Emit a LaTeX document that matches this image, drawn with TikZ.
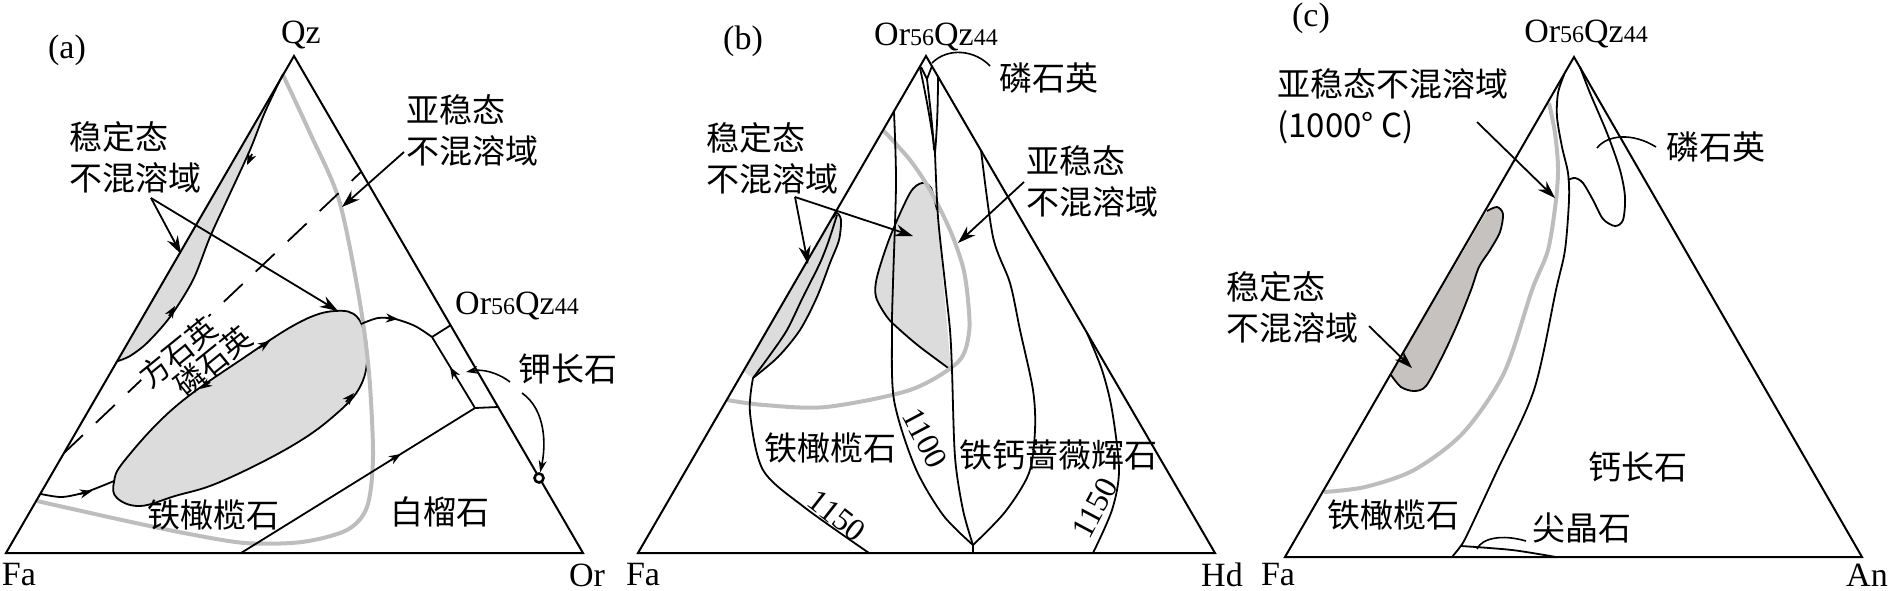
\documentclass[tikz,border=0pt]{standalone}
\usepackage{fontspec}
\setmainfont{Liberation Serif}
\newfontfamily\cjk{Noto Sans CJK SC}
\usetikzlibrary{arrows.meta}
\definecolor{lightfill}{HTML}{DCDCDC}
\definecolor{curvegray}{HTML}{BDBDBD}
\definecolor{darkfill}{HTML}{C5C2C0}
\newcommand{\orqz}{Or{\fontsize{12}{12}\selectfont 56}Qz{\fontsize{12}{12}\selectfont 44}}
\begin{document}
\begin{tikzpicture}[x=0.5pt,y=-0.5pt,
  edge/.style={line width=1pt, line join=miter},
  bd/.style={line width=0.9pt},
  gcurve/.style={line width=2pt, color=curvegray},
  pointer/.style={line width=0.9pt, -{Stealth[length=9pt,width=6pt]}},
  leader/.style={line width=0.8pt},
  leaderarrow/.style={line width=0.8pt, -{Stealth[length=6pt,width=4pt]}},
  tipa/.style={line width=0.9pt, -{Stealth[length=6pt,width=4.5pt]}},
  lab/.style={font=\fontsize{17}{20}\selectfont, inner sep=0pt},
  num/.style={font=\fontsize{16}{18}\selectfont, inner sep=0pt},
  cj/.style={font=\cjk\fontsize{16.5}{20.5}\selectfont, inner sep=0pt, align=left},
  cjs/.style={font=\cjk\fontsize{15}{17}\selectfont, inner sep=0.5pt}]
\useasboundingbox (0,0) rectangle (1892,590);

%%%%%%%%%%%%%%%%%%%% Panel (a)
\coordinate (aFa) at (6,553);
\coordinate (aOr) at (583,553);
\coordinate (aQz) at (294,56);
% stable sliver
\fill[lightfill] plot[smooth] coordinates {(283,74) (265,112) (250,150) (227,200) (210,237) (193,280) (170,317) (147,343) (130,356) (118,361)} -- cycle;
% metastable ellipse
\draw[bd, fill=lightfill] plot[smooth cycle, tension=0.65] coordinates {(140,506) (117,498) (114,482) (125,460) (175,407) (245,357) (300,322) (335,311) (358,318) (367,350) (361,385) (335,415) (290,447) (220,482) (175,496)};
% metastable boundary (gray)
\draw[gcurve] plot[smooth] coordinates {(283,75) (310,133) (339,200) (359,297) (369,373) (373,457) (367,507) (347,530) (302,542) (245,543) (184,533) (122,520) (37,501)};
% cristobalite / tridymite boundary
\draw[bd, dash pattern=on 13pt off 9pt] (64,453) -- (361,172);
% triangle
\draw[edge] (aFa) -- (aOr) -- (aQz) -- cycle;
% sliver boundary
\draw[bd] plot[smooth] coordinates {(283,74) (265,112) (250,150) (227,200) (210,237) (193,280) (170,317) (147,343) (130,356) (118,361)};
\draw[tipa] (252,154) -- (247,165);
\draw[tipa] (169,316) -- (175,306);
% ellipse arrows
\draw[tipa] (259,348) -- (270,341);
\draw[tipa] (210,382) -- (200,389);
\draw[tipa] (346,402) -- (354,393);
% boundary curves
\draw[bd] plot[smooth] coordinates {(41,494) (62,497) (86,492) (114,481)};
\draw[tipa] (80,494) -- (92,491);
\coordinate (aJ1) at (432,337);
\coordinate (aJ2) at (475,408);
\draw[bd] plot[smooth] coordinates {(361,324) (378,318) (395,319) (415,326) (432,337)};
\draw[tipa] (386,318) -- (398,319);
\draw[bd] (aJ1) -- (451,325);
\draw[bd] (aJ1) -- (aJ2) -- (498,407);
\draw[tipa] (456,377) -- (450,367);
\draw[bd] (aJ2) -- (241,553);
\draw[tipa] (391,460) -- (401,454);
% K-feldspar point
\node[draw, circle, line width=1.3pt, fill=white, minimum size=4.5pt, inner sep=0pt] (aPt) at (539,478) {};
% labels
\node[lab] (aQzL) at (301,35) {Qz};
\node[lab] (aTag) at (67,50) {(a)};
\node[lab] (aFaL) at (19,575) {Fa};
\node[lab] (aOrL) at (587,575) {Or};
\node[lab] (aOQ) at (517,306) {\orqz};
\node[cj] (aKf) at (568,369) {钾长石};
\node[cj] (aLc) at (440,512) {白榴石};
\node[cj] (aFy) at (213,515) {铁橄榄石};
\node[cj, anchor=west] (aSt) at (69,157) {稳定态\\不混溶域};
\node[cj, anchor=west] (aMe) at (406,130) {亚稳态\\不混溶域};
\node[cjs, rotate=39, fill=white] (aCr) at (178,352) {方石英};
\node[cjs, rotate=39] (aTr) at (213,361) {磷石英};
% pointers
\coordinate (aS0) at (151,198);
\coordinate (aS1) at (181,254);
\coordinate (aS2) at (338,311);
\coordinate (aM0) at (404,152);
\coordinate (aM1) at (342,207);
\draw[pointer] (aS0) -- (aS1);
\draw[pointer] (aS0) -- (aS2);
\draw[pointer] (aM0) -- (aM1);
\coordinate (aK0) at (510,382);
\coordinate (aK1) at (466,372);
\coordinate (aK2) at (522,393);
\draw[leaderarrow] (aK0) .. controls (497,372) and (482,369) .. (aK1);
\draw[leaderarrow] (aK2) .. controls (546,410) and (546,445) .. (aPt);

%%%%%%%%%%%%%%%%%%%% Panel (b)
\coordinate (bFa) at (638,553);
\coordinate (bHd) at (1215,553);
\coordinate (bTop) at (926,56);
% stable sliver
\fill[lightfill] plot[smooth] coordinates {(833,218) (837,213) (841,220) (839,240) (830,263) (817,297) (800,330) (778,357) (753,378)} -- (743,371) -- cycle;
% metastable region
\fill[lightfill] plot[smooth] coordinates {(937,210) (931,188) (922,183) (910,193) (890,237) (877,277) (876,297) (887,317) (900,330) (920,347) (951,370)} -- cycle;
\draw[bd] plot[smooth] coordinates {(937,210) (931,188) (922,183) (910,193) (890,237) (877,277) (876,297) (887,317) (900,330) (920,347) (951,370)};
% gray boundary
\draw[gcurve] plot[smooth] coordinates {(883,130) (910,160) (930,190) (950,230) (963,267) (968,300) (969,333) (958,362) (910,390) (826,407) (764,405) (727,400)};
% triangle
\draw[edge] (bFa) -- (bHd) -- (bTop) -- cycle;
% sliver lines
\draw[bd] plot[smooth] coordinates {(833,218) (837,213) (841,220) (839,240) (830,263) (817,297) (800,330) (778,357) (753,378)};
\draw[bd] plot[smooth] coordinates {(837,215) (829,240) (820,263) (803,297) (787,330) (770,355) (753,378)};
% cotectic curves
\draw[bd] plot[smooth] coordinates {(753,378) (750,413) (763,470) (804,507) (869,553)};
\coordinate (bCusp) at (973,545);
\draw[bd] plot[smooth] coordinates {(894,112) (896,183) (893,283) (892,330) (894,400) (915,467) (943,515) (973,545)};
\draw[bd] plot[smooth] coordinates {(935,153) (938,217) (945,283) (950,330) (952,370) (955,457) (963,510) (973,545)};
\draw[bd] (bCusp) -- (973,553);
\draw[bd] plot[smooth] coordinates {(981,150) (993,237) (1010,283) (1020,330) (1033,390) (1035,430) (1029,473) (1005,512) (973,545)};
\draw[bd] plot[smooth] coordinates {(1087,333) (1102,370) (1112,410) (1119,470) (1112,510) (1093,553)};
% tridymite lens
\draw[bd] (920,68) .. controls (927,100) and (932,130) .. (935,153);
\draw[bd] (938,76) .. controls (938,105) and (937,130) .. (935,153);
\draw[bd] (927,79) .. controls (930,105) and (933,130) .. (934,150);
\draw[bd] (921,67) -- (927,79) -- (932,66);
% labels
\node[lab] (bTag) at (743,41) {(b)};
\node[lab] (bOQ) at (936,37) {\orqz};
\node[lab] (bFaL) at (643,575) {Fa};
\node[lab] (bHdL) at (1222,575) {Hd};
\node[cj] (bTr) at (1049,78) {磷石英};
\node[cj, anchor=west] (bSt) at (706,158) {稳定态\\不混溶域};
\node[cj, anchor=west] (bMe) at (1026,181) {亚稳态\\不混溶域};
\node[cj] (bFy) at (830,448) {铁橄榄石};
\node[cj] (bHe) at (1058,455) {铁钙蔷薇辉石};
\node[num, rotate=-62] (bT1) at (925,438) {1100};
\node[num, rotate=-38] (bT2) at (837,516) {1150};
\node[num, rotate=62] (bT3) at (1095,508) {1150};
% pointers
\coordinate (bS0) at (795,197);
\coordinate (bS1) at (808,264);
\coordinate (bS2) at (913,236);
\coordinate (bM0) at (1024,182);
\coordinate (bM1) at (958,243);
\coordinate (bL0) at (990,66);
\coordinate (bL1) at (932,63);
\draw[pointer] (bS0) -- (bS1);
\draw[pointer] (bS0) -- (bS2);
\draw[pointer] (bM0) -- (bM1);
\draw[leader] (bL0) .. controls (975,50) and (948,47) .. (bL1);

%%%%%%%%%%%%%%%%%%%% Panel (c)
\coordinate (cFa) at (1285,557);
\coordinate (cAn) at (1862,557);
\coordinate (cTop) at (1574,57);
% stable region
\fill[darkfill] plot[smooth] coordinates {(1487,211) (1497,207) (1503,214) (1500,232) (1490,250) (1479,267) (1471,290) (1457,325) (1442,357) (1426,386) (1414,391) (1401,387) (1391,375)} -- cycle;
\draw[bd] plot[smooth] coordinates {(1487,211) (1497,207) (1503,214) (1500,232) (1490,250) (1479,267) (1471,290) (1457,325) (1442,357) (1426,386) (1414,391) (1401,387) (1391,375)};
% gray boundary
\draw[gcurve] plot[smooth] coordinates {(1549,103) (1555,133) (1558,167) (1556,200) (1548,250) (1532,290) (1504,373) (1463,433) (1414,470) (1365,487) (1324,492)};
% triangle
\draw[edge] (cFa) -- (cAn) -- (cTop) -- cycle;
% fayalite / anorthite boundary
\draw[bd] plot[smooth] coordinates {(1564,75) (1558,93) (1557,117) (1562,147) (1568,173) (1569,200) (1565,250) (1556,290) (1534,390) (1496,473) (1467,535) (1460,547) (1452,557)};
% spinel field
\draw[bd] plot[smooth] coordinates {(1461,546) (1512,550) (1556,557)};
% tridymite field
\draw[bd] plot[smooth] coordinates {(1568,180) (1575,178) (1583,183) (1593,200) (1603,219) (1615,226) (1623,220) (1625,197) (1620,170) (1607,133) (1590,93) (1580,67)};
% labels
\node[lab] (cTag) at (1311,18) {(c)};
\node[lab] (cOQ) at (1586,34) {\orqz};
\node[lab] (cFaL) at (1278,575) {Fa};
\node[lab] (cAnL) at (1867,575) {An};
\node[cj, anchor=west] (cMe) at (1277,106) {亚稳态不混溶域\\(1000°\ C)};
\node[cj, anchor=west] (cSt) at (1226,307) {稳定态\\不混溶域};
\node[cj] (cTr) at (1716,147) {磷石英};
\node[cj] (cAnf) at (1638,467) {钙长石};
\node[cj] (cFy) at (1393,515) {铁橄榄石};
\node[cj] (cSp) at (1582,528) {尖晶石};
% pointers
\coordinate (cM0) at (1477,122);
\coordinate (cM1) at (1555,198);
\coordinate (cS0) at (1369,326);
\coordinate (cS1) at (1412,368);
\coordinate (cL0) at (1656,147);
\coordinate (cL1) at (1597,148);
\coordinate (cP0) at (1526,541);
\coordinate (cP1) at (1477,549);
\draw[pointer] (cM0) -- (cM1);
\draw[pointer] (cS0) -- (cS1);
\draw[leader] (cL0) .. controls (1632,132) and (1607,135) .. (cL1);
\draw[leader] (cP0) .. controls (1502,534) and (1482,538) .. (cP1);
\end{tikzpicture}
\end{document}
